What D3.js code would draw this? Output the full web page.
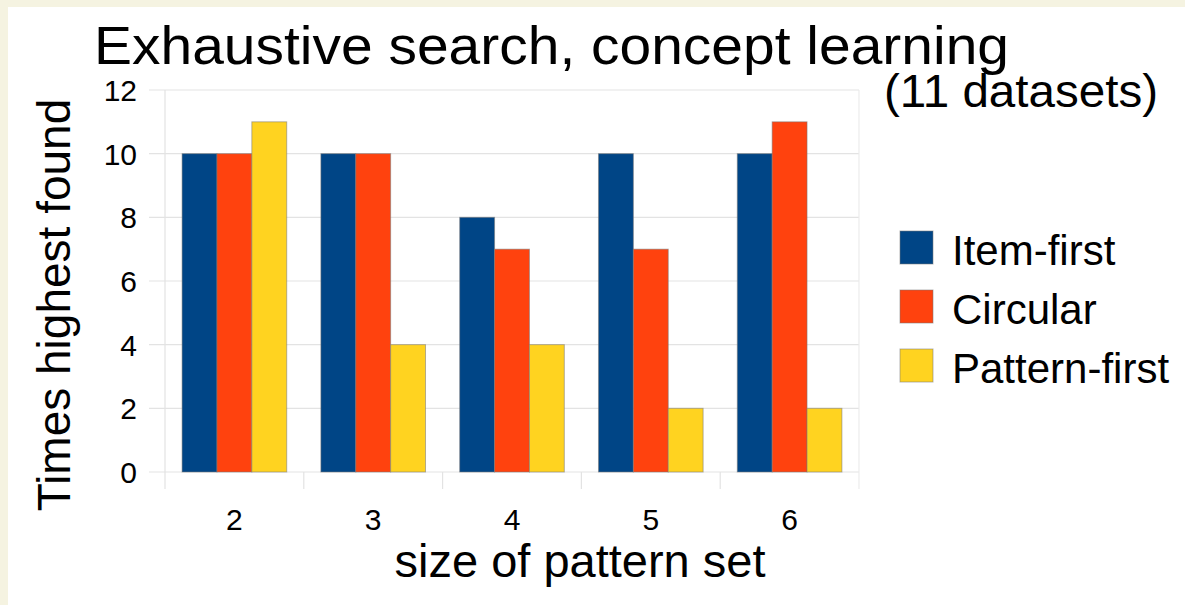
<!DOCTYPE html>
<html>
<head>
<meta charset="utf-8">
<script src="https://cdn.jsdelivr.net/npm/d3@7"></script>
<style>
  html, body { margin: 0; padding: 0; background: #f5f3e1; }
  svg { display: block; }
  text { font-family: "Liberation Sans", Arial, sans-serif; fill: #000; }
</style>
</head>
<body>
<script>
// Chart data
const categories = ["2", "3", "4", "5", "6"];
const seriesNames = ["Item-first", "Circular", "Pattern-first"];
const itemFirst    = [10, 10, 8, 10, 10];
const circular     = [10, 10, 7, 7, 11];
const patternFirst = [11, 4, 4, 2, 2];
const seriesColors = ["#004586", "#ff420e", "#ffd320"];
const yTicks = [0, 2, 4, 6, 8, 10, 12];

const seriesValues = [itemFirst, circular, patternFirst];

const W = 1185, H = 605;
const plot = { left: 165, right: 859, top: 90, bottom: 472 };

const svg = d3.select("body").append("svg")
  .attr("width", W).attr("height", H);

// Slide background: cream frame with white card
svg.append("rect").attr("width", W).attr("height", H).attr("fill", "#f5f3e1");
svg.append("rect").attr("x", 8).attr("y", 7).attr("width", W - 8).attr("height", H - 7).attr("fill", "#ffffff");

const x0 = d3.scaleBand().domain(categories).range([plot.left, plot.right]).padding(0);
const x1 = d3.scaleBand().domain(seriesNames).range([0, x0.bandwidth()]).paddingInner(0).paddingOuter(0.49);
const y = d3.scaleLinear().domain([0, 12]).range([plot.bottom, plot.top]);

// Horizontal grid lines with short ticks to the left of the axis
svg.append("g").selectAll("line").data(yTicks).join("line")
  .attr("x1", plot.left - 16).attr("x2", plot.right)
  .attr("y1", d => y(d)).attr("y2", d => y(d))
  .attr("stroke", "#e3e3e3").attr("stroke-width", 1.2);

// Vertical axis line and right edge
svg.append("line")
  .attr("x1", plot.left).attr("x2", plot.left)
  .attr("y1", plot.top).attr("y2", plot.bottom + 17)
  .attr("stroke", "#e3e3e3").attr("stroke-width", 1.2);
svg.append("line")
  .attr("x1", plot.right).attr("x2", plot.right)
  .attr("y1", plot.top).attr("y2", plot.bottom + 17)
  .attr("stroke", "#ececec").attr("stroke-width", 1.2);

// Category separators below the axis
const boundaries = categories.map(c => x0(c)).slice(1);
svg.append("g").selectAll("line").data(boundaries).join("line")
  .attr("x1", d => d).attr("x2", d => d)
  .attr("y1", plot.bottom).attr("y2", plot.bottom + 17)
  .attr("stroke", "#e3e3e3").attr("stroke-width", 1.2);

// Y tick labels
svg.append("g").selectAll("text").data(yTicks).join("text")
  .attr("x", 137).attr("y", d => y(d) + 11)
  .attr("text-anchor", "end")
  .attr("font-size", 30)
  .text(d => d);

// X tick labels
svg.append("g").selectAll("text").data(categories).join("text")
  .attr("x", d => x0(d) + x0.bandwidth() / 2).attr("y", 530)
  .attr("text-anchor", "middle")
  .attr("font-size", 30)
  .text(d => d);

// Bars
const groups = svg.append("g").selectAll("g").data(categories).join("g")
  .attr("transform", c => `translate(${x0(c)},0)`);
groups.selectAll("rect")
  .data((c, i) => seriesNames.map((s, k) => ({ s, k, v: seriesValues[k][i] })))
  .join("rect")
  .attr("x", d => x1(d.s))
  .attr("width", x1.bandwidth())
  .attr("y", d => y(d.v))
  .attr("height", d => y(0) - y(d.v))
  .attr("fill", d => seriesColors[d.k])
  .attr("stroke", "rgba(120,120,120,0.55)")
  .attr("stroke-width", 1);

// Title and subtitle
svg.append("text").attr("x", 94).attr("y", 64)
  .attr("font-size", 53)
  .attr("textLength", 915).attr("lengthAdjust", "spacingAndGlyphs")
  .text("Exhaustive search, concept learning");
svg.append("text").attr("x", 884).attr("y", 107)
  .attr("font-size", 46)
  .attr("textLength", 274).attr("lengthAdjust", "spacingAndGlyphs")
  .text("(11 datasets)");

// Axis titles
svg.append("text")
  .attr("transform", "translate(70,305) rotate(-90)")
  .attr("text-anchor", "middle")
  .attr("font-size", 46)
  .text("Times highest found");
svg.append("text").attr("x", 580).attr("y", 577)
  .attr("text-anchor", "middle")
  .attr("font-size", 47)
  .text("size of pattern set");

// Legend
const legend = svg.append("g").selectAll("g").data(seriesNames).join("g")
  .attr("transform", (d, i) => `translate(900,${231 + i * 59})`);
legend.append("rect")
  .attr("width", 33).attr("height", 33)
  .attr("fill", (d, i) => seriesColors[i])
  .attr("stroke", "rgba(120,120,120,0.55)").attr("stroke-width", 1);
legend.append("text")
  .attr("x", 52).attr("y", 34)
  .attr("font-size", 42)
  .text(d => d);
</script>
</body>
</html>
